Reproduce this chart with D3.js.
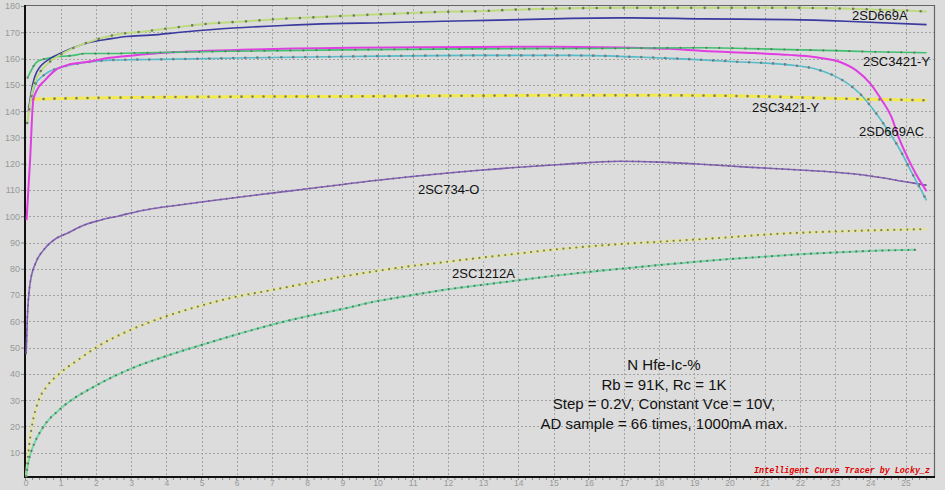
<!DOCTYPE html>
<html><head><meta charset="utf-8">
<script src="https://cdn.jsdelivr.net/npm/d3@7"></script>
<style>html,body{margin:0;padding:0;background:#dcdcdc;}svg{display:block}</style>
</head><body>
<svg id="c" width="945" height="490"></svg>
<script>
// ---- data (Ic % on x, hFE on y) ----
const xTickValues = d3.range(0, 26, 1);
const yTickValues = d3.range(10, 181, 10);

const s2SD669A_top = [[0.05,135.5],[0.2,148],[0.4,154.5],[0.65,158.3],[1.0,161.5],[1.36,164],[1.72,165.9],[2.07,167.5],[2.47,168.8],[2.86,169.7],[3.23,170.1],[3.6,170.7],[4.37,172],[4.77,172.7],[5.53,173.6],[6.31,174.2],[7.09,175],[7.9,175.5],[8.7,176],[9.5,176.5],[10.3,177],[11.1,177.4],[11.9,177.8],[12.7,178],[14.3,178.8],[15.9,179.2],[16.8,179.3],[18,179.3],[20,179.3],[21.7,179.3],[23,179.1],[24,178.7],[25,178.3],[25.6,177.9]];
const s2SD669A = [[0.08,139.7],[0.2,150],[0.32,154.9],[0.7,160],[1.03,162.2],[1.74,165.9],[2.4,167.5],[2.87,168.4],[3.54,168.9],[4.48,170.1],[5.9,171.6],[7.32,172.6],[8.74,173.3],[10.17,173.6],[11.6,174.1],[12.6,174.4],[14.05,174.8],[15.5,175.3],[17.2,175.5],[19.25,175.1],[21.7,174.8],[23.3,174.2],[25.6,172.9]];
const s2SC3421Y_a = [[0.06,152.7],[0.34,158.9],[0.7,160.3],[1.36,161.2],[1.69,161.9],[2.4,161.9],[3.06,162.1],[3.82,162.3],[6,162.8],[9,163.3],[12.6,163.7],[15,163.8],[17,163.9],[19.25,164.1],[21.7,163.4],[23,163],[24,162.6],[25.6,162.2]];
const s2SD669AC = [[0.1,141.6],[0.17,145.4],[0.27,149.8],[0.55,154],[0.89,156.2],[1.22,157.4],[1.83,158.7],[2.3,159.3],[3.06,159.6],[3.82,159.7],[6.4,160.3],[9.2,160.8],[12.6,161.2],[15.5,161.2],[17.4,160.6],[18.8,159.8],[20.2,158.8],[21.7,157.6],[22.4,156.2],[22.95,153.6],[23.3,151],[23.7,146.7],[24.1,140.3],[24.5,132.7],[24.85,125.1],[25.2,116],[25.6,106]];
const sMagenta = [[0.03,98.5],[0.13,121.3],[0.22,144.1],[0.32,147.9],[0.55,151.7],[0.84,155.5],[1.26,157.8],[1.74,158.7],[2.4,160.3],[3.06,161.2],[3.82,162.1],[6.4,163.4],[9.2,164.1],[12.6,164.4],[15,164.5],[17.2,164.1],[18.3,163.7],[19.25,162.9],[20.7,162.1],[21.7,161.4],[22.4,160.6],[23.14,158.7],[23.6,155.5],[24.0,150.5],[24.3,144.7],[24.6,137.8],[24.8,130.2],[25.05,122.6],[25.3,116],[25.6,109.5]];
const s2SC3421Y_b = [[0.2,144.5],[1,144.8],[3,145.2],[6,145.5],[9,145.6],[12,145.8],[15,146],[18,146],[20,145.8],[21.5,145.4],[23,144.8],[24.5,144.4],[25.6,144.1]];
const s2SC734O = [[0.02,47.8],[0.05,60.5],[0.13,74.4],[0.3,82.6],[0.5,86.9],[0.9,91.8],[1.17,93.4],[1.6,96.3],[2.12,98.5],[2.68,100.2],[3.25,102],[3.82,103.3],[5.0,105.4],[6.5,108],[7.8,110.1],[10.07,113.8],[12.9,117.5],[15.2,119.7],[16.9,120.9],[18,120.6],[19.2,119.8],[20.5,118.7],[22,117.6],[22.95,116.8],[24,115.3],[25.05,113],[25.6,111.8]];
const s2SC1212A_a = [[0.02,1],[0.08,9.8],[0.18,19.9],[0.36,29.4],[0.6,35.1],[1,40.5],[1.5,45.4],[2,50],[3,56.8],[4,61.9],[5,66],[6,69.4],[7,71.9],[8,74.5],[9,77],[10,79.2],[11,81.1],[12,82.7],[13,84.3],[14,85.8],[15,87.3],[16,88.5],[17,89.5],[18,90.3],[19,91.1],[20,92],[21,93],[22,93.7],[23,94.2],[24,94.6],[25,94.9],[25.6,95.1]];
const s2SC1212A_b = [[0.02,1],[0.05,4],[0.1,7.5],[0.22,12.5],[0.5,19.7],[1,26.8],[2,35.5],[3,42],[4,46.8],[5,51],[6,55],[7,58.7],[8,61.9],[9,64.7],[10,67.7],[11,70],[12,72.2],[13,73.9],[14,75.6],[15,77.3],[16,78.8],[17,80.1],[18,81.4],[19,82.6],[20,83.7],[21,84.6],[22,85.5],[23,86.2],[24,86.8],[25.3,87.2]];

// ---- layout ----
const svg = d3.select("#c");
const x = d3.scaleLinear().domain([0, 25]).range([25.5, 905.5]);
const y = d3.scaleLinear().domain([0, 180]).range([479, 6]);
const L = 25, R = 934, T = 5, B = 477;

svg.append("rect").attr("width", 945).attr("height", 490).attr("fill", "#dcdcdc");

// grid
const grid = svg.append("g").attr("stroke", "#a4a4a4").attr("stroke-width", 1).attr("stroke-dasharray", "2,2");
grid.selectAll("line.v").data(xTickValues.filter(d => d > 0)).join("line")
  .attr("x1", d => Math.round(x(d)) + 0.5).attr("x2", d => Math.round(x(d)) + 0.5)
  .attr("y1", T).attr("y2", B);
grid.selectAll("line.h").data(yTickValues.filter(d => d < 180)).join("line")
  .attr("y1", d => Math.round(y(d)) + 0.5).attr("y2", d => Math.round(y(d)) + 0.5)
  .attr("x1", L).attr("x2", R);

// axes
const xAxis = d3.axisBottom(x).tickValues(xTickValues).tickSize(0).tickPadding(3).tickFormat(d3.format("d"));
const gx = svg.append("g").attr("transform", `translate(0,${B})`).call(xAxis);
gx.select(".domain").remove();
gx.selectAll("text").attr("fill", "#999").attr("font-size", 8.5).attr("font-family", "Liberation Sans, Arial, sans-serif");
const minor = svg.append("g").attr("stroke", "#8a8a8a");
minor.selectAll("line").data(d3.range(0, 25.7, 0.2)).join("line")
  .attr("x1", d => x(d)).attr("x2", d => x(d)).attr("y1", B + 1).attr("y2", B + 3);

const yAxis = d3.axisLeft(y).tickValues(yTickValues).tickSize(4).tickPadding(1).tickFormat(d3.format("d"));
const gy = svg.append("g").attr("transform", `translate(${L},0)`).call(yAxis);
gy.select(".domain").remove();
gy.selectAll("line").attr("stroke", "#888");
gy.selectAll("text").attr("fill", "#999").attr("font-size", 9).attr("font-family", "Liberation Sans, Arial, sans-serif");

// frame
svg.append("line").attr("x1", L).attr("x2", R).attr("y1", T + 0.5).attr("y2", T + 0.5).attr("stroke", "#666").attr("stroke-width", 1.2);
svg.append("line").attr("x1", R + 0.5).attr("x2", R + 0.5).attr("y1", T).attr("y2", B).attr("stroke", "#666").attr("stroke-width", 1.2);
svg.append("line").attr("x1", L).attr("x2", L).attr("y1", T).attr("y2", B + 1).attr("stroke", "#111").attr("stroke-width", 2);
svg.append("line").attr("x1", L - 1).attr("x2", R + 1).attr("y1", B).attr("y2", B).attr("stroke", "#111").attr("stroke-width", 2);

// curves
const line = d3.line().x(d => x(d[0])).y(d => y(d[1])).curve(d3.curveMonotoneX);
const series = [
  {d: s2SC1212A_a, c: "#e4e49c", w: 2.6, dot: "#767b66", gap: 6.5, dw: 2.2},
  {d: s2SC1212A_b, c: "#74d9a4", w: 2, dot: "#66716a", gap: 6.5, dw: 2.2},
  {d: s2SC734O, c: "#8563b6", w: 1.6, dot: "#6d5a88", gap: 6, dw: 1.8},
  {d: s2SC3421Y_b, c: "#f2ea4e", w: 3, dot: "#7a7a66", gap: 11},
  {d: s2SD669AC, c: "#55bccb", w: 1.6, dot: "#6f7f80", gap: 12},
  {d: sMagenta, c: "#e03ee0", w: 2, dot: null},
  {d: s2SC3421Y_a, c: "#3fc26f", w: 1.6, dot: "#5e7a66", gap: 13, dw: 2.2},
  {d: s2SD669A, c: "#3a3aa0", w: 1.6, dot: null},
  {d: s2SD669A_top, c: "#bddb7c", w: 2, dot: "#707866", gap: 13.5}
];
const cg = svg.append("g").attr("fill", "none");
series.forEach(s => {
  cg.append("path").datum(s.d).attr("d", line).attr("stroke", s.c).attr("stroke-width", s.w).attr("stroke-linejoin", "round");
  if (s.dot) {
    cg.append("path").datum(s.d).attr("d", line).attr("stroke", s.dot)
      .attr("stroke-width", s.dw || 2.6).attr("stroke-linecap", "round")
      .attr("stroke-dasharray", `0,${s.gap}`);
  }
});

// curve labels (data units)
const labels = [
  {t: "2SD669A", v: [23.48, 174.5]},
  {t: "2SC3421-Y", v: [23.79, 157]},
  {t: "2SC3421-Y", v: [20.64, 139.5]},
  {t: "2SD669AC", v: [23.68, 130.4]},
  {t: "2SC734-O", v: [11.15, 108.4]},
  {t: "2SC1212A", v: [12.12, 76.6]}
];
svg.append("g").selectAll("text").data(labels).join("text")
  .attr("x", d => x(d.v[0])).attr("y", d => y(d.v[1]))
  .attr("font-family", "Liberation Sans, Arial, sans-serif").attr("font-size", 13).attr("fill", "#111")
  .text(d => d.t);

// info block
const info = ["N Hfe-Ic-%", "Rb = 91K, Rc = 1K", "Step = 0.2V, Constant Vce = 10V,", "AD sample = 66 times, 1000mA max."];
svg.append("g").selectAll("text").data(info).join("text")
  .attr("x", 664).attr("y", (d, i) => 370 + i * 19.5)
  .attr("text-anchor", "middle")
  .attr("font-family", "Liberation Sans, Arial, sans-serif").attr("font-size", 15).attr("fill", "#111")
  .text(d => d);

// watermark
svg.append("text").attr("x", 930).attr("y", 473).attr("text-anchor", "end")
  .attr("font-family", "Liberation Mono, Courier New, monospace").attr("font-size", 8.4)
  .attr("font-weight", "bold").attr("font-style", "italic").attr("fill", "#e00000")
  .text("Intelligent Curve Tracer by Locky_z");
</script>
</body></html>
